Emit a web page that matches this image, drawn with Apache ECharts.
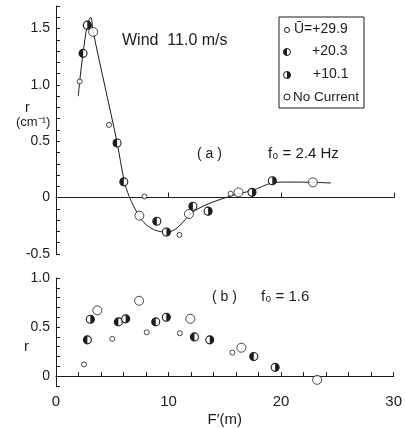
<!DOCTYPE html>
<html>
<head>
<meta charset="utf-8">
<script src="https://cdn.jsdelivr.net/npm/echarts@6/dist/echarts.min.js"></script>
<style>html,body{margin:0;padding:0;background:#fff}#c{width:405px;height:428px}</style>
</head>
<body>
<div id="c"></div>
<script>
// ---- Panel (a): f0 = 2.4 Hz, r in cm^-1 vs F' (m)
const a_U299 = [[2.1,1.03],[4.7,0.645],[7.85,0.01],[10.96,-0.33],[15.5,0.035]];
const a_U203 = [[2.4,1.28],[5.42,0.485],[6.02,0.14],[8.95,-0.21],[12.15,-0.077]];
const a_U101 = [[2.78,1.53],[9.8,-0.305],[13.5,-0.12],[17.4,0.047],[19.2,0.15]];
const a_NoCur = [[3.3,1.47],[7.4,-0.16],[11.8,-0.145],[16.2,0.047],[22.8,0.136]];
const a_curve = [[1.98,0.9],[2.1,1.03],[2.4,1.28],[2.78,1.53],[3.08,1.6],[3.3,1.47],[4.36,0.98],[5.42,0.49],[6.05,0.15],[6.5,0.01],[7.35,-0.16],[8.0,-0.24],[8.85,-0.29],[9.75,-0.305],[10.6,-0.28],[11.8,-0.16],[12.4,-0.11],[13.9,-0.04],[15.7,0.02],[17.45,0.065],[19.2,0.13],[20.4,0.138],[22.8,0.136],[24.4,0.13]];

// ---- Panel (b): f0 = 1.6
const b_U299 = [[2.49,0.12],[5.0,0.38],[8.06,0.447],[11.0,0.437],[15.67,0.24]];
const b_U203 = [[2.79,0.37],[5.54,0.553],[8.86,0.553],[12.3,0.40],[17.57,0.20]];
const b_U101 = [[3.05,0.58],[6.19,0.584],[9.8,0.60],[13.66,0.37],[19.47,0.09]];
const b_NoCur = [[3.67,0.67],[7.38,0.768],[11.94,0.584],[16.47,0.29],[23.2,-0.037]];

const xTicksLabels = ['0','10','20','30'];
const legendLabels = ['\u016A=+29.9','+20.3','+10.1','No Current'];

const INK = '#1c1c1c';
const FONT = 'Liberation Sans';

function halfRender(side, r){
  return function(params, api){
    const p = api.coord([api.value(0), api.value(1)]);
    const s = side === 'left' ? Math.PI/2 : -Math.PI/2;
    return {type:'group', children:[
      {type:'circle', shape:{cx:p[0],cy:p[1],r:r}, style:{fill:'#fff',stroke:INK,lineWidth:1.1}},
      {type:'sector', shape:{cx:p[0],cy:p[1],r0:0,r:r,startAngle:s,endAngle:s+Math.PI,clockwise:true}, style:{fill:INK}}
    ]};
  };
}
function yFmt(v){
  const r = Math.round(v*10)/10;
  if (Math.abs(r*2 - Math.round(r*2)) < 1e-6) return r === 0 ? '0' : r.toFixed(1);
  return '';
}
function xFmt(v){
  const r = Math.round(v);
  return (r % 10 === 0) ? xTicksLabels[r/10] : '';
}

const chart = echarts.init(document.getElementById('c'), null, {renderer:'canvas'});
const axisLine = {lineStyle:{color:INK,width:1}};
const lbl = {color:INK, fontFamily:FONT, fontSize:14};

chart.setOption({
  animation:false,
  backgroundColor:'#fff',
  grid:[
    {left:56, top:6, width:338, height:248},
    {left:56, top:278, width:338, height:120}
  ],
  xAxis:[
    {gridIndex:0, type:'value', min:0, max:30, interval:10,
     axisLine:Object.assign({onZero:true}, axisLine),
     axisTick:{show:true, inside:true, length:5, lineStyle:{color:INK}},
     axisLabel:{show:false}, splitLine:{show:false}},
    {gridIndex:1, type:'value', min:0, max:30, interval:2,
     axisLine:Object.assign({onZero:true}, axisLine),
     axisTick:{show:true, inside:true, length:4, lineStyle:{color:INK}},
     axisLabel:Object.assign({formatter:xFmt, margin:8}, lbl, {fontSize:15}),
     name:"F\u2032(m)", nameLocation:'middle', nameGap:26,
     nameTextStyle:{color:INK, fontFamily:FONT, fontSize:15},
     splitLine:{show:false}}
  ],
  yAxis:[
    {gridIndex:0, type:'value', min:-0.5, max:1.7, interval:0.1,
     axisLine:Object.assign({onZero:false}, axisLine),
     axisTick:{show:true, inside:true, length:4, lineStyle:{color:INK}},
     axisLabel:Object.assign({formatter:yFmt, margin:6}, lbl),
     splitLine:{show:false}},
    {gridIndex:1, type:'value', min:-0.1, max:1.0, interval:0.1,
     axisLine:Object.assign({onZero:false}, axisLine),
     axisTick:{show:true, inside:true, length:4, lineStyle:{color:INK}},
     axisLabel:Object.assign({formatter:yFmt, margin:6}, lbl),
     splitLine:{show:false}}
  ],
  series:[
    {type:'line', xAxisIndex:0, yAxisIndex:0, data:a_curve, smooth:0.35, showSymbol:false,
     lineStyle:{color:INK, width:1}, z:1},
    {type:'scatter', xAxisIndex:0, yAxisIndex:0, data:a_U299, symbol:'circle', symbolSize:5,
     itemStyle:{color:'#fff', borderColor:INK, borderWidth:1}, z:3},
    {type:'custom', xAxisIndex:0, yAxisIndex:0, data:a_U203, renderItem:halfRender('left',4), z:3},
    {type:'custom', xAxisIndex:0, yAxisIndex:0, data:a_U101, renderItem:halfRender('right',4), z:3},
    {type:'scatter', xAxisIndex:0, yAxisIndex:0, data:a_NoCur, symbol:'circle', symbolSize:9,
     itemStyle:{color:'#fff', borderColor:INK, borderWidth:1}, z:3},

    {type:'scatter', xAxisIndex:1, yAxisIndex:1, data:b_U299, symbol:'circle', symbolSize:5,
     itemStyle:{color:'#fff', borderColor:INK, borderWidth:1}, z:3},
    {type:'custom', xAxisIndex:1, yAxisIndex:1, data:b_U203, renderItem:halfRender('left',4), z:3},
    {type:'custom', xAxisIndex:1, yAxisIndex:1, data:b_U101, renderItem:halfRender('right',4), z:3},
    {type:'scatter', xAxisIndex:1, yAxisIndex:1, data:b_NoCur, symbol:'circle', symbolSize:9,
     itemStyle:{color:'#fff', borderColor:INK, borderWidth:1}, z:3}
  ],
  graphic:[
    {type:'text', left:122, top:33, style:{text:'Wind  11.0 m/s', fill:INK, font:'16px '+FONT}},
    {type:'text', left:197, top:147, style:{text:'( a )', fill:INK, font:'14px '+FONT}},
    {type:'text', left:268, top:146, style:{text:'f\u2080 = 2.4 Hz', fill:INK, font:'15px '+FONT}},
    {type:'text', left:212, top:290, style:{text:'( b )', fill:INK, font:'14px '+FONT}},
    {type:'text', left:261, top:289, style:{text:'f\u2080 = 1.6', fill:INK, font:'15px '+FONT}},
    {type:'text', left:25, top:101, style:{text:'r', fill:INK, font:'14px '+FONT}},
    {type:'text', left:16, top:116, style:{text:'(cm\u207B\u00B9)', fill:INK, font:'13px '+FONT}},
    {type:'text', left:24, top:339, style:{text:'r', fill:INK, font:'15px '+FONT}},
    // legend box
    {type:'rect', shape:{x:279, y:17, width:85, height:91}, style:{fill:'#fff', stroke:INK, lineWidth:1}, z:5},
    {type:'circle', shape:{cx:287, cy:30, r:2.5}, style:{fill:'#fff', stroke:INK, lineWidth:1}, z:6},
    {type:'sector', shape:{cx:287, cy:52, r0:0, r:3.5, startAngle:0, endAngle:Math.PI*2}, style:{fill:'#fff', stroke:INK, lineWidth:1}, z:6},
    {type:'sector', shape:{cx:287, cy:52, r0:0, r:3.5, startAngle:Math.PI/2, endAngle:Math.PI*1.5}, style:{fill:INK}, z:7},
    {type:'sector', shape:{cx:287, cy:75, r0:0, r:3.5, startAngle:0, endAngle:Math.PI*2}, style:{fill:'#fff', stroke:INK, lineWidth:1}, z:6},
    {type:'sector', shape:{cx:287, cy:75, r0:0, r:3.5, startAngle:-Math.PI/2, endAngle:Math.PI/2}, style:{fill:INK}, z:7},
    {type:'circle', shape:{cx:287, cy:97, r:3}, style:{fill:'#fff', stroke:INK, lineWidth:1}, z:6},
    {type:'text', left:294, top:22, style:{text:legendLabels[0], fill:INK, font:'14px '+FONT}, z:6},
    {type:'text', left:312, top:44, style:{text:legendLabels[1], fill:INK, font:'14px '+FONT}, z:6},
    {type:'text', left:313, top:67, style:{text:legendLabels[2], fill:INK, font:'14px '+FONT}, z:6},
    {type:'text', left:293, top:90, style:{text:legendLabels[3], fill:INK, font:'13.5px '+FONT}, z:6}
  ]
});
</script>
</body>
</html>
